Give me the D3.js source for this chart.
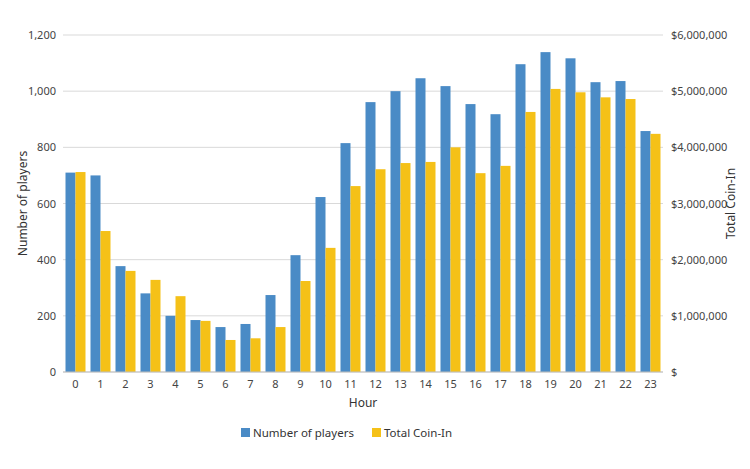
<!DOCTYPE html>
<html><head><meta charset="utf-8">
<script src="https://cdn.jsdelivr.net/npm/d3@7/dist/d3.min.js"></script>
<style>body{margin:0;background:#fff}text{font-family:"Noto Sans",sans-serif}</style>
</head><body><div id="chart"></div>
<script>
const hours = d3.range(24).map(String);
const players = [710,700,377,280,200,185,160,171,274,416,623,815,961,1000,1046,1018,954,918,1096,1139,1117,1032,1036,858];
const coinIn = [3560000,2510000,1800000,1640000,1350000,910000,570000,600000,800000,1620000,2210000,3310000,3610000,3720000,3740000,4000000,3540000,3670000,4630000,5040000,4980000,4890000,4860000,4240000];
const leftTicks = [0,200,400,600,800,1000,1200];
const rightTicks = [0,1000000,2000000,3000000,4000000,5000000,6000000];

const width = 750, height = 469;
const m = {left: 63, right: 87, top: 35, bottom: 97};
const blue = '#4a8bc6', yellow = '#f5c118';

const svg = d3.select('#chart').append('svg').attr('width', width).attr('height', height);

const x = d3.scaleBand().domain(hours).range([m.left, width - m.right]).paddingInner(0.2).paddingOuter(0.1);
const yL = d3.scaleLinear().domain([0, 1200]).range([height - m.bottom, m.top]);
const yR = d3.scaleLinear().domain([0, 6000000]).range([height - m.bottom, m.top]);

// grid
svg.append('g').selectAll('line').data(leftTicks).enter().append('line')
  .attr('x1', m.left).attr('x2', width - m.right)
  .attr('y1', d => yL(d)).attr('y2', d => yL(d))
  .style('stroke', '#d9d9d9').style('stroke-width', 1);

const bw = x.bandwidth() / 2;
svg.append('g').selectAll('rect').data(players).enter().append('rect')
  .attr('x', (d, i) => x(hours[i])).attr('width', bw)
  .attr('y', d => yL(d)).attr('height', d => yL(0) - yL(d))
  .style('fill', blue);
svg.append('g').selectAll('rect').data(coinIn).enter().append('rect')
  .attr('x', (d, i) => x(hours[i]) + bw).attr('width', bw)
  .attr('y', d => yR(d)).attr('height', d => yR(0) - yR(d))
  .style('fill', yellow);

// axes
const style = g => {
  g.select('.domain').remove();
  g.selectAll('.tick line').remove();
  g.selectAll('text').style('font-size', '11px').style('fill', '#444');
};
svg.append('g').attr('transform', `translate(${m.left - 4},0)`)
  .call(d3.axisLeft(yL).tickValues(leftTicks).tickSize(0).tickPadding(3)).call(style);
svg.append('g').attr('transform', `translate(${width - m.right + 2},0)`)
  .call(d3.axisRight(yR).tickValues(rightTicks).tickSize(0).tickPadding(6)
    .tickFormat(d => d === 0 ? '$' : d3.format('$,')(d))).call(style);
svg.append('g').attr('transform', `translate(0,${height - m.bottom + 2})`)
  .call(d3.axisBottom(x).tickSize(0).tickPadding(6)).call(style);

svg.append('line').attr('x1', m.left).attr('x2', width - m.right)
  .attr('y1', yL(0)).attr('y2', yL(0)).style('stroke', '#bfbfbf');

// titles
svg.append('text').attr('x', (m.left + width - m.right) / 2).attr('y', 407)
  .attr('text-anchor', 'middle').style('font-size', '12px').style('fill', '#333').text('Hour');
svg.append('text').attr('transform', `translate(27,${(m.top + height - m.bottom) / 2}) rotate(-90)`)
  .attr('text-anchor', 'middle').style('font-size', '12px').style('fill', '#333').text('Number of players');
svg.append('text').attr('transform', `translate(735,${(m.top + height - m.bottom) / 2}) rotate(-90)`)
  .attr('text-anchor', 'middle').style('font-size', '12px').style('fill', '#333').text('Total Coin-In');

// legend
const legend = [{name: 'Number of players', c: blue, x: 241}, {name: 'Total Coin-In', c: yellow, x: 372}];
const lg = svg.append('g').selectAll('g').data(legend).enter().append('g')
  .attr('transform', d => `translate(${d.x},428)`);
lg.append('rect').attr('width', 9).attr('height', 9).style('fill', d => d.c);
lg.append('text').attr('x', 12).attr('y', 9).style('font-size', '11.5px').style('fill', '#333').text(d => d.name);
</script>
</body></html>
